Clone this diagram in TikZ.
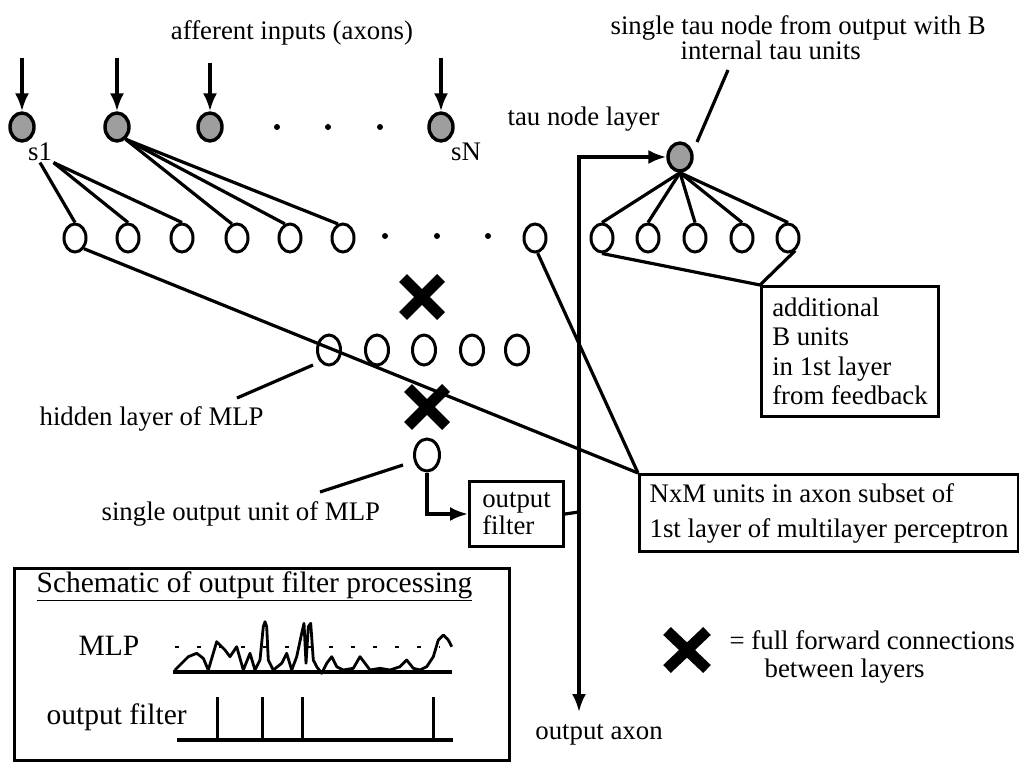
\documentclass[tikz,border=0pt]{standalone}
\usepackage{fontspec}
\setmainfont{Liberation Serif}
\usetikzlibrary{shapes.geometric,arrows.meta}
\begin{document}
\begin{tikzpicture}[x=1pt,y=-1pt,line width=3.2pt,
  unit/.style={ellipse,draw,line width=3pt,minimum width=22pt,minimum height=28pt,inner sep=0pt},
  inunit/.style={unit,fill=black!38,minimum width=24pt,minimum height=28pt,line width=3.4pt},
  arr/.style={-{Latex[length=18pt,width=14pt]}},
  txt/.style={font=\fontsize{26.8}{30}\selectfont,inner sep=0pt},
  btxt/.style={font=\fontsize{29.5}{32}\selectfont,inner sep=0pt},
  box/.style={draw,line width=3pt,inner sep=0pt},
  dotn/.style={circle,fill,inner sep=0pt,minimum size=6pt},
  xmk/.style={line width=11pt},
  trace/.style={line width=2.8pt,line join=round}]
\useasboundingbox (0,0) rectangle (1019,762);

% input (tau) nodes
\node[inunit] (in1) at (22,127) {};
\node[inunit] (in2) at (117,127) {};
\node[inunit] (in3) at (210,127) {};
\node[inunit] (inN) at (441,127) {};
\node[dotn] (d1) at (277,127) {};
\node[dotn] (d2) at (328,127) {};
\node[dotn] (d3) at (380,127) {};
\coordinate (t1) at (22,58);
\coordinate (t2) at (117,58);
\coordinate (t3) at (210,63);
\coordinate (tN) at (441,58);
\draw[arr] (t1) -- (in1);
\draw[arr] (t2) -- (in2);
\draw[arr] (t3) -- (in3);
\draw[arr] (tN) -- (inN);
\node[txt] (s1) at (40,152) {s1};
\node[txt] (sN) at (466,152) {sN};
\node[txt] (aff) at (292,33) {afferent inputs (axons)};
\node[txt,anchor=mid west] (tnl) at (506,123) {tau node layer};

% first layer
\node[unit] (a1) at (75,238) {};
\node[unit] (a2) at (128,238) {};
\node[unit] (a3) at (182,238) {};
\node[unit] (a4) at (237,238) {};
\node[unit] (a5) at (290,238) {};
\node[unit] (a6) at (343,238) {};
\node[dotn] (e1) at (385,236) {};
\node[dotn] (e2) at (437,236) {};
\node[dotn] (e3) at (488,236) {};
\node[unit] (aN) at (535,238) {};
\node[unit] (b1) at (602,238) {};
\node[unit] (b2) at (648,238) {};
\node[unit] (b3) at (695,238) {};
\node[unit] (b4) at (742,238) {};
\node[unit] (b5) at (788,238) {};

\draw (s1.south) -- (a1.north);
\draw (s1.south east) -- (a2.north);
\draw (s1.south east) -- (a3.north);
\draw (in2.-55) -- (a4.110);
\draw (in2.-55) -- (a5.110);
\draw (in2.-55) -- (a6.110);

% tau node from output
\node[inunit] (tau) at (680,157) {};
\foreach \b in {b1,b2,b3,b4,b5} \draw (tau.south) -- (\b.north);
\node[txt,align=left,anchor=north west,font=\fontsize{26.8}{25}\selectfont] (taulbl) at (609,14)
  {single tau node from output with B\\\hspace*{70pt}internal tau units};
\coordinate (tp1) at (697,142);
\coordinate (tp2) at (728,70);
\draw (tp1) -- (tp2);

% additional B units box
\node[box,anchor=north west,minimum width=177pt,minimum height=130pt,align=left,font=\fontsize{26.8}{29.5}\selectfont] (add) at (760,285)
  {additional\\B units\\in 1st layer\\from feedback};
\draw (b1.south) -- (add.north west);
\draw (b5.-60) -- (add.north west);

% hidden layer
\node[unit,minimum width=23pt,minimum height=30pt] (h1) at (329,350) {};
\node[unit,minimum width=23pt,minimum height=30pt] (h2) at (377,350) {};
\node[unit,minimum width=23pt,minimum height=30pt] (h3) at (424,350) {};
\node[unit,minimum width=23pt,minimum height=30pt] (h4) at (472,350) {};
\node[unit,minimum width=23pt,minimum height=30pt] (h5) at (517,350) {};
\node[unit,minimum width=25pt,minimum height=32pt] (out) at (427,455) {};

% X marks
\draw[xmk] (422,297) +(-19,-19) -- +(19,19) +(-19,19) -- +(19,-19);
\draw[xmk] (427,407) +(-19,-19) -- +(19,19) +(-19,19) -- +(19,-19);
\draw[xmk] (687,650) +(-20,-19) -- +(20,19) +(-20,19) -- +(20,-19);
\node[txt,anchor=mid west] (leg1) at (728,647) {= full forward connections};
\node[txt,anchor=mid west] (leg2) at (763,675) {between layers};

% labels
\node[txt,anchor=mid west] (hl) at (38,423) {hidden layer of MLP};
\coordinate (hp1) at (313,365);
\coordinate (hp2) at (237,398);
\draw (hp1) -- (hp2);
\node[txt,anchor=mid west] (ol) at (100,518) {single output unit of MLP};
\coordinate (op1) at (403,465);
\coordinate (op2) at (320,492);
\draw (op1) -- (op2);

% NxM box
\node[box,anchor=north west,minimum width=379pt,minimum height=77pt,align=left,font=\fontsize{26.8}{35}\selectfont] (nxm) at (638,473)
  {NxM units in axon subset of\\1st layer of multilayer perceptron};
\draw (a1.-50) -- (nxm.north west);
\draw (aN.-80) -- (nxm.north west);

% output filter
\node[box,anchor=north west,minimum width=94pt,minimum height=65pt,align=left,font=\fontsize{26.8}{27}\selectfont] (filt) at (468,480)
  {output\\filter};
\draw[arr] (out.south) |- (filt.west);
\coordinate (j) at (579,512);
\coordinate (axend) at (579,712);
\draw (filt.east) -- (j);
\draw[arr] (j) |- (tau.west);
\draw[arr] (j) -- (axend);
\node[txt] (axl) at (599,735) {output axon};

% schematic box
\node[box,anchor=north west,minimum width=495pt,minimum height=192pt] (sch) at (13,567) {};
\node[btxt,anchor=mid west] (schT) at (35,590) {\underline{Schematic of output filter processing}};
\node[btxt,anchor=mid west] (mlp) at (77,653) {MLP};
\node[btxt,anchor=mid west] (ofl) at (45,722) {output filter};
\coordinate (m0) at (173,672);
\coordinate (m1) at (452,672);
\draw[line width=3.4pt] (m0) -- (m1);
\draw[line width=2.2pt,dash pattern=on 4pt off 18pt] (175,647) -- (440,647);
\draw[trace] (175,670) -- (181.7,663.3) -- (188.3,656.7) -- (196.7,653.3) -- (203.3,658.3) -- (208.3,670)
  -- (216.7,641.7) -- (225,650) -- (230,656.7) -- (236.7,646.7) -- (243.3,670) -- (250,653.3) -- (255,670)
  -- (260,660) -- (263.3,626.7) -- (265,621.7) -- (266.7,626.7) -- (268.3,660) -- (273.3,670)
  -- (281.7,663.3) -- (286.7,653.3) -- (291.7,670) -- (296.7,656.7) -- (301.7,633.3) -- (304,623.3)
  -- (306,663.3) -- (308.3,626.7) -- (310.7,623.3) -- (313.3,660) -- (316.7,666.7) -- (321.7,673.3)
  -- (326.7,663.3) -- (331.7,656.7) -- (336.7,666.7) -- (343.3,670) -- (353.3,668.3) -- (360,656.7)
  -- (365,663.3) -- (370,670) -- (380,668.3) -- (390,670) -- (400,666.7) -- (406.7,660) -- (413.3,668.3)
  -- (420,670) -- (426.7,666.7) -- (433.3,656.7) -- (438.3,640) -- (443.3,635) -- (448.3,640) -- (451.7,646.7);
\coordinate (f0) at (177,740);
\coordinate (f1) at (453,740);
\draw[line width=3.4pt] (f0) -- (f1);
\foreach \xx in {217,262,302,433} \draw[line width=3pt] (\xx,740) -- (\xx,697);
\end{tikzpicture}
\end{document}
